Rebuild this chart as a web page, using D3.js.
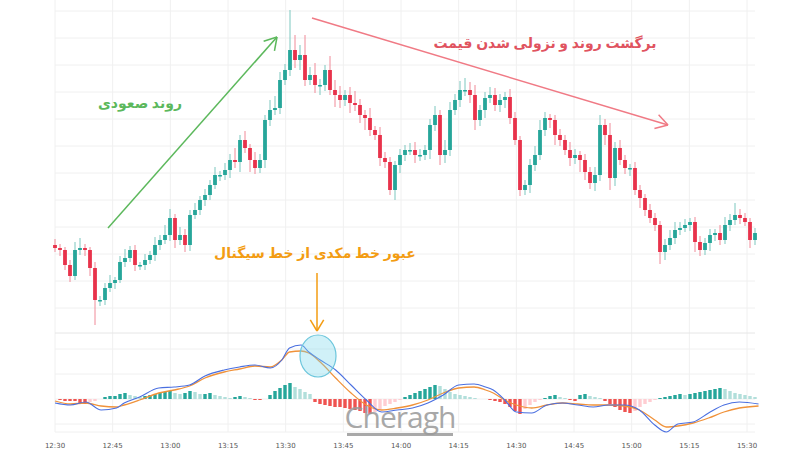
<!DOCTYPE html>
<html><head><meta charset="utf-8">
<script src="https://cdn.jsdelivr.net/npm/d3@7"></script>
<style>body{margin:0;background:#fff}svg{display:block}</style>
</head><body><svg id="chart" width="800" height="450"></svg>
<script>
// closes (price units), one candle per step
var closes = [82,80,65,54,80,82,80,62,30,30,42,47,50,68,72,80,65,65,70,75,85,90,95,112,90,95,85,115,120,130,
  135,145,155,155,160,170,168,190,182,170,162,170,210,220,222,250,260,280,270,275,250,255,245,245,260,240,235,230,235,227,
  225,215,212,200,195,172,168,140,165,175,180,180,175,175,180,205,215,175,180,220,230,240,240,235,210,220,232,235,225,230,
  233,212,190,140,145,165,175,200,212,210,195,190,180,172,175,170,158,147,155,205,195,152,182,170,162,162,140,132,120,112,
  105,78,85,92,100,102,105,108,88,80,87,95,97,90,105,110,115,112,108,90,97];
var wickUp = [6,4,3,5,8,10,4,3,6,4,5,8,3,6,9,4,5,3,6,4,8,5,10,9,4,8,6,5,7,4,
  6,5,8,4,7,6,12,5,9,4,8,6,5,10,12,8,6,40,15,10,20,8,12,6,5,14,10,9,5,8,
  12,6,5,10,4,8,6,5,4,6,5,7,8,6,5,6,9,5,10,8,6,9,12,8,10,5,6,8,7,6,
  5,8,6,4,5,6,9,10,6,4,5,6,5,8,6,4,6,5,8,10,6,12,6,8,5,4,6,5,4,6,
  5,4,6,8,8,6,6,4,5,6,5,6,4,8,8,6,12,6,5,4,5];
var wickDn = [4,6,5,6,4,5,6,8,25,6,5,4,6,3,5,4,6,5,5,4,6,5,4,6,8,5,7,6,4,5,
  6,5,4,6,5,8,6,10,5,12,6,5,8,6,5,6,5,6,8,10,6,5,8,10,6,5,12,8,6,10,
  6,8,12,6,5,8,6,5,10,8,6,5,8,6,5,9,6,10,8,6,5,7,6,8,10,6,8,5,6,7,
  8,6,5,6,5,8,6,5,6,8,10,6,5,8,6,12,8,6,8,6,10,12,8,5,6,8,5,10,6,5,
  6,12,8,5,6,5,4,6,10,6,5,8,6,5,4,6,5,6,4,8,5];
// MACD (blue) and signal (orange), sampled at times (minutes after 12:30)
var macdMin = [0,4,8,12,16,18,22,27,31,35,39,44,48,52,56,59,61,64,66,69,73,77,81,85,89,93,97,101,105,109,
  112,114,117,120,124,128,132,136,140,144,148,152,156,159,162,166,170,174,178,183];
var macdVal = [-4,-6,-3,-11,-9,-4,2,11,12,14,23,29,32,34,31,39,51,54,47,39,29,14,-1,-13,-11,-9,-4,4,14,15,
  12,9,-1,-13,-14,-6,-4,-6,-8,-6,-6,-11,-26,-33,-25,-23,-14,-6,-3,-5];
var signalVal = [-2,-5,-4,-7,-8,-6,-1,6,9,13,21,27,30,33,32,39,47,48,46,37,21,6,-6,-11,-9,-6,-1,6,11,12,
  9,6,-1,-6,-9,-6,-4,-5,-6,-6,-7,-11,-21,-28,-27,-24,-19,-13,-9,-7];
var hist = [0,-1,-2,-2,-2,-4,-5,-3,-2,0,2,3,3,5,6,4,3,2,3,4,5,6,7,8,6,5,6,8,7,5,
  5,6,4,3,2,1,2,3,2,1,-1,-1,0,4,8,11,14,16,12,10,7,5,-3,-5,-6,-7,-8,-8,-9,-10,
  -11,-12,-14,-15,-13,-10,-7,-5,-3,-1,2,4,6,8,10,12,14,13,10,7,5,4,3,2,1,0,0,-1,-2,-3,
  -5,-8,-12,-15,-10,-6,-3,-1,1,3,4,2,1,-1,-2,4,5,3,2,1,-2,-5,-8,-11,-13,-14,-12,-8,-5,-3,
  -1,1,2,3,4,5,4,5,6,7,8,9,10,11,10,8,6,5,4,3,2];
var tickLabels = ["12:30","12:45","13:00","13:15","13:30","13:45","14:00","14:15","14:30","14:45","15:00","15:15","15:30"];

var svg = d3.select("#chart");
var t0 = new Date(2024,0,1,12,30);
var xTime = d3.scaleTime().domain([t0, d3.timeMinute.offset(t0,180)]).range([55,747]);
var xIdx = d3.scaleLinear().domain([0, closes.length-1]).range([55,755]);
var xHist = d3.scaleLinear().domain([0, hist.length-1]).range([55,755]);
var yPrice = d3.scaleLinear().domain([0,330]).range([330,0]);
var yMacd = d3.scaleLinear().domain([-33,65]).range([432,334]);

var tickDates = tickLabels.map(function(s){ var p=s.split(":"); return new Date(2024,0,1,+p[0],+p[1]); });

// grid
var grid = svg.append("g").attr("stroke","#f0f0f0").attr("stroke-width",1);
tickDates.forEach(function(d){
  grid.append("line").attr("x1",xTime(d)).attr("x2",xTime(d)).attr("y1",0).attr("y2",432);
});
d3.range(22,330,27).forEach(function(p){
  grid.append("line").attr("x1",55).attr("x2",755).attr("y1",yPrice(p)).attr("y2",yPrice(p));
});
[-25,0,25,50].forEach(function(v){
  grid.append("line").attr("x1",55).attr("x2",755).attr("y1",yMacd(v)).attr("y2",yMacd(v));
});
svg.append("line").attr("x1",55).attr("x2",755).attr("y1",333).attr("y2",333).attr("stroke","#e6e6e6");
svg.append("line").attr("x1",55).attr("x2",755).attr("y1",432).attr("y2",432).attr("stroke","#f0f0f0");

// candles
var green = "#26a69a", red = "#e8324b";
var candles = svg.append("g");
closes.forEach(function(c,i){
  var o = i ? closes[i-1] : c + 3;
  var up = c >= o;
  var hi = Math.max(o,c) + wickUp[i], lo = Math.min(o,c) - wickDn[i];
  var x = xIdx(i);
  candles.append("line").attr("x1",x).attr("x2",x).attr("y1",yPrice(hi)).attr("y2",yPrice(lo))
    .attr("stroke", up ? "#7cc7bf" : "#f08a98").attr("stroke-width",1);
  var top = yPrice(Math.max(o,c)), h = Math.max(1.5, yPrice(Math.min(o,c)) - top);
  candles.append("rect").attr("x",x-1.9).attr("width",3.8).attr("y",top).attr("height",h)
    .attr("fill", up ? green : red);
});

// histogram
var hg = svg.append("g");
hist.forEach(function(v,i){
  var prev = i ? hist[i-1] : 0;
  var col = v >= 0 ? (v >= prev ? "#26a69a" : "#b2dfdb") : (v <= prev ? "#ef5350" : "#ffcdd2");
  hg.append("rect").attr("x",xHist(i)-1.7).attr("width",3.4)
    .attr("y", yMacd(Math.max(0,v))).attr("height", Math.abs(yMacd(v)-yMacd(0)))
    .attr("fill", col);
});

// MACD lines
var line = function(vals){
  return d3.line().x(function(d,i){ return xTime(d3.timeMinute.offset(t0, macdMin[i])); })
    .y(function(d){ return yMacd(d); }).curve(d3.curveMonotoneX)(vals);
};
svg.append("path").attr("d",line(signalVal)).attr("fill","none").attr("stroke","#f0923a").attr("stroke-width",1.3);
svg.append("path").attr("d",line(macdVal)).attr("fill","none").attr("stroke","#4a6fe0").attr("stroke-width",1.1);

// crossing circle
svg.append("ellipse").attr("cx",318).attr("cy",356).attr("rx",18).attr("ry",21)
  .attr("fill","rgba(120,215,235,0.35)").attr("stroke","#6cc6dc").attr("stroke-width",1.2);

// watermark
svg.append("text").attr("x",400).attr("y",428).attr("text-anchor","middle")
  .attr("font-family","Open Sans, sans-serif").attr("font-size",30).attr("fill","#9a9a9a").attr("opacity",0.85)
  .attr("letter-spacing",-1).text("Cheragh");
svg.append("rect").attr("x",347).attr("y",433).attr("width",106).attr("height",3).attr("fill","#9a9a9a").attr("opacity",0.85);

// x axis labels
svg.append("g").selectAll("text").data(tickDates).join("text")
  .attr("x",function(d){ return xTime(d); }).attr("y",448).attr("text-anchor","middle")
  .attr("font-family","DejaVu Sans, sans-serif").attr("font-size",7).attr("fill","#555")
  .text(function(d,i){ return tickLabels[i]; });

// annotations
function arrowHead(g,x,y,ang,len,col){
  [ang+2.6, ang-2.6].forEach(function(a){
    g.append("line").attr("x1",x).attr("y1",y).attr("x2",x+len*Math.cos(a)).attr("y2",y+len*Math.sin(a))
      .attr("stroke",col).attr("stroke-width",1.5);
  });
}
var ann = svg.append("g");
ann.append("line").attr("x1",108).attr("y1",228).attr("x2",277).attr("y2",37).attr("stroke","#5cb85c").attr("stroke-width",1.5);
arrowHead(ann,277,37,Math.atan2(37-228,277-108),14,"#5cb85c");
ann.append("text").attr("x",140).attr("y",108).attr("text-anchor","middle").attr("direction","rtl")
  .attr("font-family","Noto Sans, DejaVu Sans, sans-serif").attr("font-weight","bold").attr("font-size",14)
  .attr("fill","#5cb85c").text("روند صعودی");

ann.append("line").attr("x1",312).attr("y1",18).attr("x2",668).attr("y2",125).attr("stroke","#f07a85").attr("stroke-width",1.5);
arrowHead(ann,668,125,Math.atan2(125-18,668-312),14,"#f07a85");
ann.append("text").attr("x",545).attr("y",48).attr("text-anchor","middle").attr("direction","rtl")
  .attr("font-family","Noto Sans, DejaVu Sans, sans-serif").attr("font-weight","bold").attr("font-size",14)
  .attr("fill","#e0535f").text("برگشت روند و نزولی شدن قیمت");

ann.append("text").attr("x",315).attr("y",258).attr("text-anchor","middle").attr("direction","rtl")
  .attr("font-family","Noto Sans, DejaVu Sans, sans-serif").attr("font-weight","bold").attr("font-size",14)
  .attr("fill","#f39c12").text("عبور خط مکدی از خط سیگنال");
ann.append("line").attr("x1",317).attr("y1",273).attr("x2",317).attr("y2",331).attr("stroke","#f39c12").attr("stroke-width",1.5);
arrowHead(ann,317,331,Math.PI/2,13,"#f39c12");
</script></body></html>
